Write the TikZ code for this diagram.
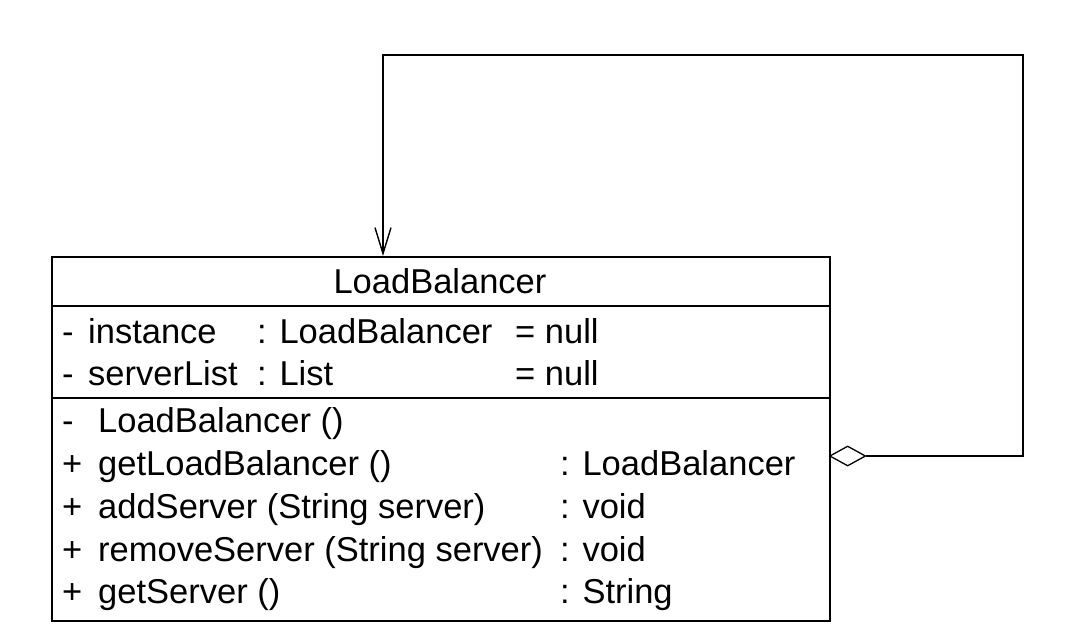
\documentclass[tikz,border=0pt]{standalone}
\usepackage{fontspec}
\setmainfont{Liberation Sans}
\usetikzlibrary{arrows.meta,shapes.geometric}
\begin{document}
\begin{tikzpicture}[x=1pt,y=-1pt,
  umltext/.style={anchor=base west,inner sep=0pt,font=\fontsize{34.5}{40}\selectfont},
  classbox/.style={draw,line width=1.6pt,rectangle,inner sep=0pt,anchor=north west,minimum width=778pt,minimum height=364pt},
  sepline/.style={line width=1.6pt},
  conn/.style={line width=1.6pt},
  aggdiamond/.style={diamond,draw,line width=1.3pt,inner sep=0pt,minimum width=36pt,minimum height=20pt,anchor=west,fill=white}
]
\useasboundingbox (0,0) rectangle (1078,638);
% class box
\node[classbox] (cls) at (51,256) {};
\coordinate (s1) at (51,306);
\coordinate (s2) at (51,398);
\draw[sepline] (s1) -- (s1 -| cls.east);
\draw[sepline] (s2) -- (s2 -| cls.east);
% title
\node[umltext,anchor=base] (title) at (440,293) {LoadBalancer};
% attributes
\node[umltext] (a1v) at (62,343) {-};
\node[umltext] (a1n) at (88,343) {instance};
\node[umltext] (a1t) at (257,343) {: LoadBalancer};
\node[umltext] (a1d) at (515,343) {= null};
\node[umltext] (a2v) at (62,385) {-};
\node[umltext] (a2n) at (88,385) {serverList};
\node[umltext] (a2t) at (257,385) {: List};
\node[umltext] (a2d) at (515,385) {= null};
% methods
\node[umltext] (m1v) at (62,432) {-};
\node[umltext] (m1n) at (98,432) {LoadBalancer ()};
\node[umltext] (m2v) at (62,475) {+};
\node[umltext] (m2n) at (98,475) {getLoadBalancer ()};
\node[umltext] (m2t) at (560,475) {: LoadBalancer};
\node[umltext] (m3v) at (62,518) {+};
\node[umltext] (m3n) at (98,518) {addServer (String server)};
\node[umltext] (m3t) at (560,518) {: void};
\node[umltext] (m4v) at (62,561) {+};
\node[umltext] (m4n) at (98,561) {removeServer (String server)};
\node[umltext] (m4t) at (560,561) {: void};
\node[umltext] (m5v) at (62,603) {+};
\node[umltext] (m5n) at (98,603) {getServer ()};
\node[umltext] (m5t) at (560,603) {: String};
% aggregation diamond and self association
\coordinate (dpos) at (829,456);
\node[aggdiamond] (agg) at (dpos) {};
\coordinate (c1) at (1023,456);
\coordinate (c2) at (383,55);
\draw[conn,-{Straight Barb[length=26pt,width=16pt,line width=1.4pt]}] (agg.east) -- (c1) |- (c2) -- (c2 |- cls.north);
\end{tikzpicture}
\end{document}
